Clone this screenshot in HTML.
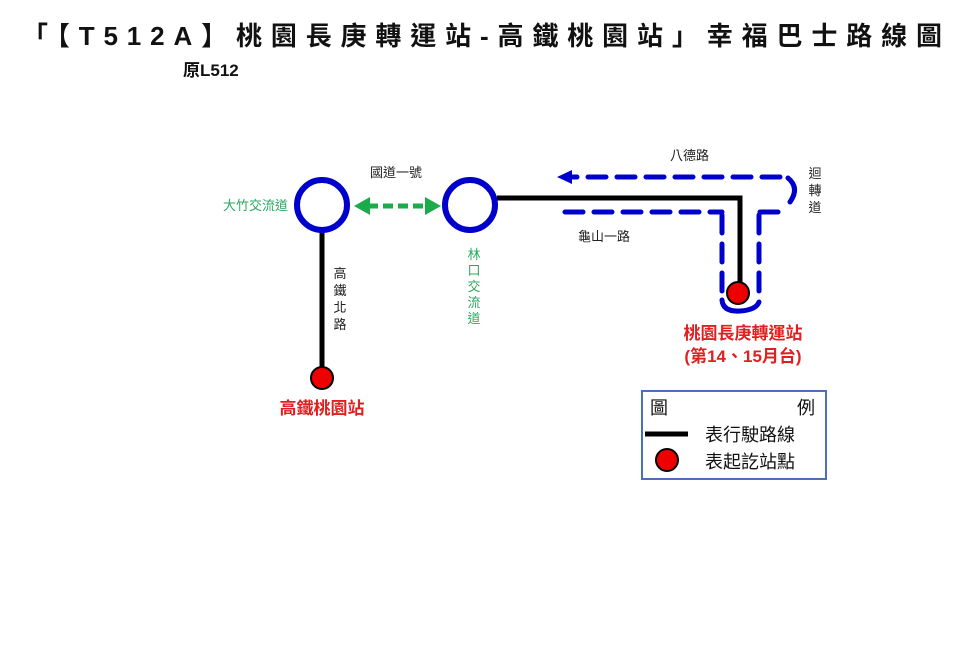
<!DOCTYPE html>
<html><head><meta charset="utf-8"><style>
html,body{margin:0;padding:0;background:#fff;width:960px;height:665px;overflow:hidden}
svg text{font-family:"Liberation Sans","Noto Sans CJK TC",sans-serif}
</style></head><body>
<svg width="960" height="665" viewBox="0 0 960 665" xmlns="http://www.w3.org/2000/svg">
<text x="22" y="45" font-size="26" font-weight="bold" fill="#111" textLength="920" lengthAdjust="spacing">「【T512A】桃園長庚轉運站-高鐵桃園站」幸福巴士路線圖</text>
<text x="183" y="76" font-size="17" font-weight="bold" fill="#111">原L512</text>

<!-- black route lines -->
<line x1="322" y1="231" x2="322" y2="378" stroke="#000" stroke-width="5"/>
<polyline points="497,198 740,198 740,293" fill="none" stroke="#000" stroke-width="5"/>

<!-- circles -->
<circle cx="322" cy="205" r="25" fill="#fff" stroke="#0000cc" stroke-width="6"/>
<circle cx="470" cy="205" r="25" fill="#fff" stroke="#0000cc" stroke-width="6"/>

<!-- green arrow -->
<line x1="368" y1="206" x2="427" y2="206" stroke="#1aab4a" stroke-width="5" stroke-dasharray="10,5"/>
<polygon points="354,206 370,197 370,215" fill="#1aab4a"/>
<polygon points="441,206 425,197 425,215" fill="#1aab4a"/>

<!-- blue dashed -->
<g fill="none" stroke="#0000cc" stroke-width="5" stroke-linecap="round" stroke-dasharray="18,11">
<line x1="780" y1="177" x2="572" y2="177"/>
<line x1="565" y1="212" x2="722" y2="212"/>
<line x1="722" y1="215" x2="722" y2="300"/>
<line x1="759" y1="215" x2="759" y2="300"/>
<line x1="760" y1="212" x2="780" y2="212"/>
</g>
<g fill="none" stroke="#0000cc" stroke-width="5" stroke-linecap="round">
<path d="M788,178 Q800,188 790,202"/>
<path d="M722,300 Q723,312 740,311 Q756,310 759,302"/>
</g>
<polygon points="557,177 572,170 572,184" fill="#0000cc"/>

<!-- red dots -->
<circle cx="322" cy="378" r="11" fill="#ee0000" stroke="#000" stroke-width="2"/>
<circle cx="738" cy="293" r="11" fill="#ee0000" stroke="#000" stroke-width="2"/>

<!-- labels -->
<text x="370" y="177" font-size="13" fill="#222">國道一號</text>
<text x="288" y="210" font-size="13" fill="#2aa860" text-anchor="end">大竹交流道</text>
<g font-size="13" fill="#222" text-anchor="middle">
<text x="340" y="278">高</text><text x="340" y="295">鐵</text><text x="340" y="312">北</text><text x="340" y="329">路</text>
<text x="815" y="178">迴</text><text x="815" y="195">轉</text><text x="815" y="212">道</text>
</g>
<g font-size="13" fill="#2aa860" text-anchor="middle">
<text x="474" y="259">林</text><text x="474" y="275">口</text><text x="474" y="291">交</text><text x="474" y="307">流</text><text x="474" y="323">道</text>
</g>
<text x="670" y="160" font-size="13" fill="#222">八德路</text>
<text x="578" y="241" font-size="13" fill="#222">龜山一路</text>
<text x="322" y="414" font-size="17" font-weight="bold" fill="#e02020" text-anchor="middle">高鐵桃園站</text>
<text x="743" y="339" font-size="17" font-weight="bold" fill="#e02020" text-anchor="middle">桃園長庚轉運站</text>
<text x="743" y="362" font-size="17" font-weight="bold" fill="#e02020" text-anchor="middle">(第14、15月台)</text>

<!-- legend -->
<rect x="642" y="391" width="184" height="88" fill="#fff" stroke="#4a70b8" stroke-width="2"/>
<text x="650" y="414" font-size="18" fill="#111">圖</text>
<text x="815" y="414" font-size="18" fill="#111" text-anchor="end">例</text>
<line x1="645" y1="434" x2="688" y2="434" stroke="#000" stroke-width="5"/>
<text x="705" y="441" font-size="18" fill="#111">表行駛路線</text>
<circle cx="667" cy="460" r="11" fill="#ee0000" stroke="#000" stroke-width="2"/>
<text x="705" y="468" font-size="18" fill="#111">表起訖站點</text>
</svg>
</body></html>
